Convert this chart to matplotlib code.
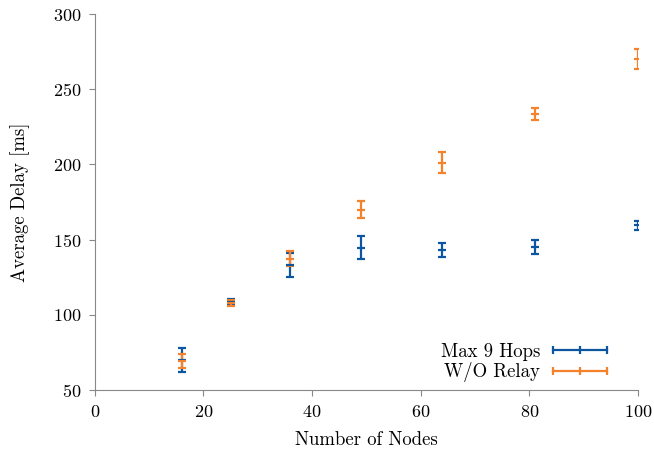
import matplotlib
matplotlib.use("Agg")
import matplotlib.pyplot as plt
from matplotlib.lines import Line2D

plt.rcParams['font.family'] = 'serif'
plt.rcParams['font.serif'] = ['cmr10', 'DejaVu Serif']
plt.rcParams['mathtext.fontset'] = 'cm'
plt.rcParams['axes.formatter.use_mathtext'] = True

nodes = [16, 25, 36, 49, 64, 81, 100]
hops_mean = [69.6, 108.5, 133.0, 144.6, 143.0, 145.0, 159.5]
hops_err = [8.0, 2.0, 8.0, 7.7, 4.5, 4.5, 3.0]
relay_mean = [69.5, 108.0, 137.4, 170.0, 201.0, 233.5, 270.0]
relay_err = [4.6, 2.0, 5.0, 5.6, 7.0, 4.0, 6.5]

blue = '#0b55a1'
orange = '#f5822a'

fig = plt.figure(figsize=(6.54, 4.55), dpi=100)
ax = fig.add_axes([0.145, 0.143, 0.8305, 0.826])

for mean, err, c in [(hops_mean, hops_err, blue), (relay_mean, relay_err, orange)]:
    ax.errorbar(nodes, mean, yerr=err, fmt='_', color=c, ecolor=c,
                elinewidth=1.6, capsize=3, capthick=1.6, markersize=6, mew=1.6)

ax.set_xlim(0, 100)
ax.set_ylim(50, 300)
ax.set_xticks(range(0, 101, 20))
ax.set_yticks(range(50, 301, 50))
ax.set_xlabel('Number of Nodes', fontsize=13.5, labelpad=8)
ax.set_ylabel('Average Delay [ms]', fontsize=13.5, labelpad=16)
ax.tick_params(labelsize=13, color='#888888', length=4, pad=6)
for s in ['top', 'right']:
    ax.spines[s].set_visible(False)
for s in ['left', 'bottom']:
    ax.spines[s].set_color('#888888')

handles = [Line2D([], [], color=blue, lw=1.6, marker='|', markersize=6, mew=1.6),
           Line2D([], [], color=orange, lw=1.6, marker='|', markersize=6, mew=1.6)]
ax.legend(handles, ['Max 9 Hops', 'W/O Relay'], loc='lower right', frameon=False,
          numpoints=3, markerfirst=False, fontsize=13.5, handlelength=3.5,
          labelspacing=0.1, handletextpad=0.4, borderaxespad=0,
          bbox_to_anchor=(0.968, 0.0))

fig.savefig('out.png', dpi=100)
